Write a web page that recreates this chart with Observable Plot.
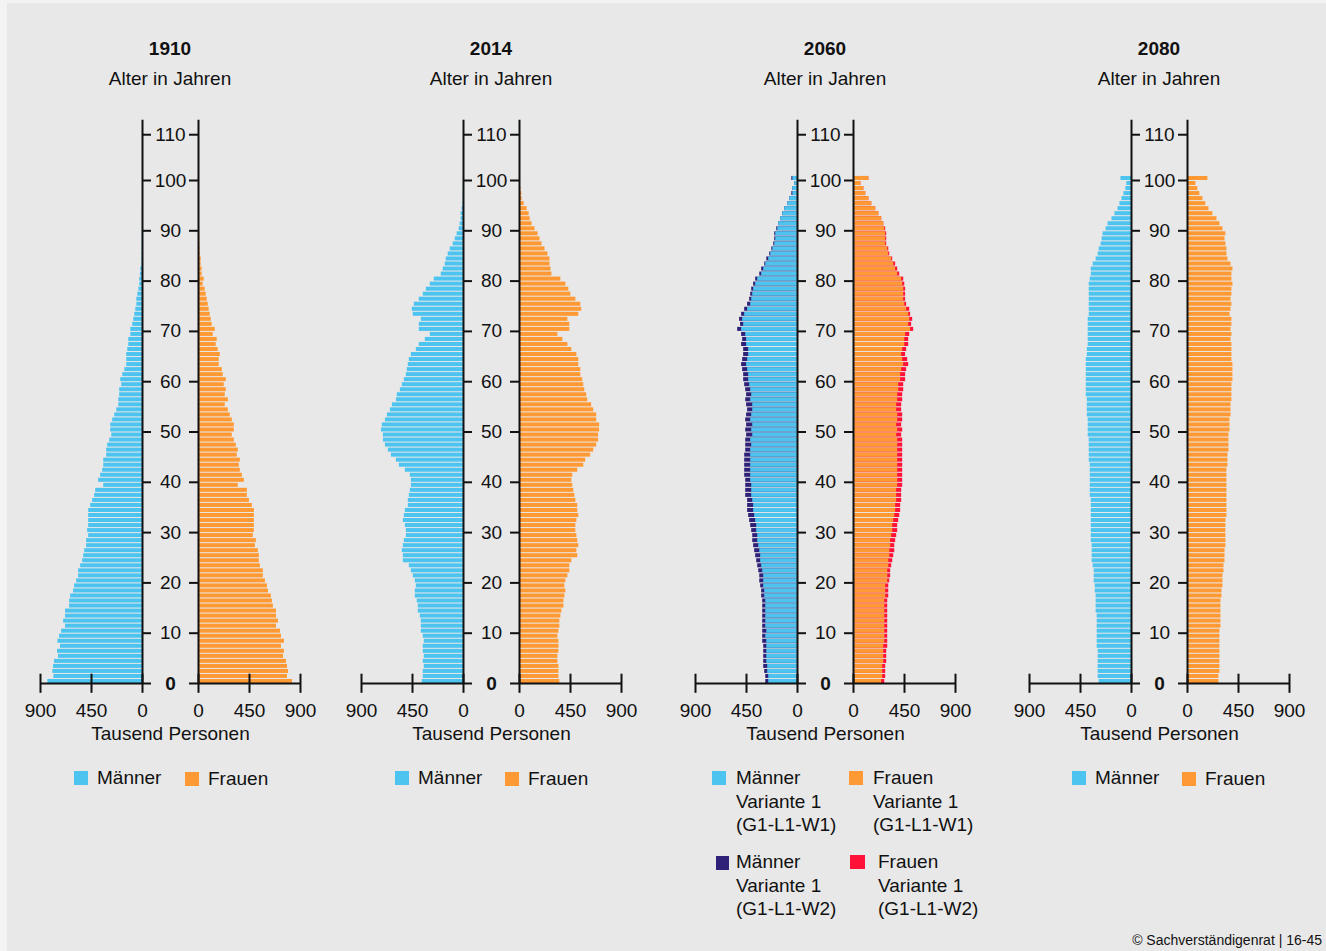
<!DOCTYPE html>
<html><head><meta charset="utf-8">
<script src="https://cdn.jsdelivr.net/npm/d3@7"></script>
<script src="https://cdn.jsdelivr.net/npm/@observablehq/plot@0.6"></script>
<style>
body{margin:0;background:#f3f3f3;font-family:"Liberation Sans",Arial,sans-serif;color:#111;}
#root{position:relative;width:1326px;height:951px;overflow:hidden;}
#bg{position:absolute;left:7px;top:3px;right:0;bottom:0;background:#e8e8e8;}
.t{position:absolute;white-space:nowrap;font-size:19px;line-height:24px;height:24px;}
.c{transform:translateX(-50%);}
.sq{position:absolute;width:14px;height:14px;}
.panel{position:absolute;top:100px;width:340px;height:643px;}
.panel svg{max-width:none !important;}
</style></head>
<body><div id="root"><div id="bg"></div></div>
<script>
const ages = d3.range(0, 101);
const years = ["1910", "2014", "2060", "2080"];
const ageTicks = d3.range(0, 111, 10);
const xTicks = [0, 450, 900];

const men1910 = [835,782,791,785,776,741,750,723,746,732,714,679,696,679,679,643,643,634,608,599,581,564,564,546,528,519,510,493,493,475,484,475,475,475,475,457,440,422,413,342,387,369,351,342,342,316,316,307,289,271,280,280,263,245,227,209,209,201,201,183,192,174,156,139,139,139,130,121,121,103,103,86,77,68,59,50,50,41,32,24,24,18,15,6,5,4,4,3,3,2,2,1,1,1,1,0,0,0,0,0,0];
const women1910 = [829,785,794,785,776,750,758,732,758,732,723,688,705,688,688,661,652,643,617,608,590,572,572,546,537,537,528,502,510,484,493,493,493,493,493,475,449,431,431,351,404,387,369,360,369,342,351,333,316,298,316,316,298,280,263,236,263,236,245,227,245,218,210,183,183,192,174,156,165,130,148,121,112,103,94,86,77,68,59,41,50,32,32,24,24,15,15,12,12,10,10,8,6,5,4,3,2,2,1,1,1];
const men2014 = [364,355,355,346,355,346,355,355,346,355,372,372,372,381,399,399,408,425,425,416,425,443,460,478,531,531,540,531,522,504,504,513,531,522,513,487,487,478,469,460,460,469,513,566,592,636,663,689,707,707,724,716,689,671,645,627,592,584,557,540,522,504,496,487,478,460,416,390,337,293,390,390,372,443,452,434,390,355,328,293,258,196,179,161,152,135,117,91,73,56,38,29,21,21,12,6,4,3,2,1,1];
const women2014 = [356,348,348,348,339,339,348,348,348,339,348,356,356,365,374,392,392,400,409,400,409,427,444,444,462,514,506,523,514,506,497,497,506,523,514,514,497,488,479,470,462,470,514,567,584,628,655,681,698,698,707,707,681,681,655,637,602,593,576,567,558,541,541,523,523,506,462,427,383,339,444,444,427,523,549,541,497,453,435,409,365,286,278,269,269,251,225,199,181,164,137,111,94,85,67,41,23,20,12,9,6];
const men2060W1 = [254,254,263,263,271,271,271,271,271,280,271,280,280,280,280,280,280,289,289,298,298,298,307,316,325,325,333,342,351,351,360,360,369,378,387,387,395,404,404,404,413,413,413,413,413,413,413,404,413,395,404,395,413,404,395,395,413,404,413,422,431,431,440,449,440,431,431,449,449,457,493,475,484,466,440,413,404,395,387,369,351,316,298,280,254,236,218,201,192,192,174,165,148,130,112,86,68,41,41,24,41];
const men2060W2 = [280,280,289,298,298,298,298,298,307,307,307,307,307,307,307,307,307,316,316,325,333,333,342,351,360,369,378,387,395,395,404,413,422,431,440,440,440,457,457,457,457,466,466,466,466,466,457,457,457,449,457,449,457,449,440,449,457,449,457,466,475,475,484,493,484,475,475,493,484,493,528,502,511,493,466,440,422,413,404,387,369,333,316,289,271,245,227,210,201,201,183,165,148,130,112,86,68,50,41,24,50];
const women2060W1 = [249,258,258,258,267,267,267,267,276,276,276,276,276,276,276,276,276,284,284,284,302,302,302,311,311,320,320,328,328,337,346,346,355,364,372,372,381,381,381,390,390,390,390,390,390,390,390,390,390,381,390,381,390,390,381,381,390,390,399,399,416,416,425,443,434,425,434,452,452,460,504,487,496,487,469,452,443,443,443,434,425,390,372,355,337,311,302,284,284,284,276,267,249,223,196,161,135,108,91,65,135];
const women2060W2 = [276,284,284,284,293,293,293,302,302,302,302,302,302,302,302,302,302,311,311,311,320,328,328,337,346,355,364,364,372,381,390,390,399,408,416,416,425,425,425,434,434,434,434,434,434,434,434,434,434,425,434,425,434,434,425,425,434,434,443,443,460,460,469,487,478,460,469,487,487,496,531,513,522,504,496,469,460,460,460,452,443,408,390,372,346,320,311,293,293,293,284,267,249,223,196,161,135,108,91,65,135];
const men2080 = [285,294,294,294,294,294,294,303,303,303,303,303,303,303,312,312,312,312,320,320,329,329,329,338,347,347,347,347,355,355,355,355,355,355,355,355,355,364,364,364,364,364,364,364,373,373,373,373,373,382,382,382,382,390,390,390,390,399,399,399,399,399,399,399,399,390,390,382,382,382,382,382,382,373,373,373,373,373,373,373,364,355,355,338,312,294,285,268,259,251,224,207,172,146,119,102,84,67,50,41,93];
const women2080 = [277,277,286,286,286,286,286,286,286,286,286,295,295,295,295,295,295,304,304,313,313,313,322,322,331,331,331,339,339,339,339,339,339,348,348,348,348,348,348,348,348,348,348,357,357,357,366,366,366,366,375,375,375,384,384,384,392,392,392,392,401,401,401,401,392,392,392,392,384,392,384,392,392,375,384,392,384,392,392,401,392,392,401,384,357,348,348,339,331,339,313,286,260,224,189,162,136,109,91,74,180];

const BLUE = "#4dc3f0", ORANGE = "#ff9933", NAVY = "#2e2177", RED = "#ff1138", INK = "#111";
const FONT = '"Liberation Sans", Arial, sans-serif';
const root = document.getElementById("root");

const panels = [
  {m0: 142, men: men1910, women: women1910},
  {m0: 463, men: men2014, women: women2014},
  {m0: 797, men: men2060W1, women: women2060W1, men2: men2060W2, women2: women2060W2},
  {m0: 1131, men: men2080, women: women2080}
];

const PXK = 102 / 900;           // px per thousand
const G = 28 / PXK;              // half-gap in data units
const TK = 9 / PXK;              // age tick length in data units
// the reference draws its top tick (110) a little closer to 100 than the others
const tickPos = t => (t === 110 ? 109.1 : t);

function addText(txt, x, yc, opts = {}) {
  const d = document.createElement("div");
  d.className = "t" + (opts.center ? " c" : "");
  d.textContent = txt;
  d.style.left = x + "px";
  d.style.top = (yc - 12) + "px";
  if (opts.bold) d.style.fontWeight = "bold";
  if (opts.size) d.style.fontSize = opts.size + "px";
  root.appendChild(d);
}
function addSq(x, y, color, w = 14, h = 14) {
  const d = document.createElement("div");
  d.className = "sq";
  d.style.left = x + "px"; d.style.top = y + "px";
  d.style.width = w + "px"; d.style.height = h + "px";
  d.style.background = color;
  root.appendChild(d);
}

panels.forEach((p, k) => {
  const rows = ages.map((a, i) => ({age: a, m: p.men[i], w: p.women[i],
    m2: p.men2 ? p.men2[i] : 0, w2: p.women2 ? p.women2[i] : 0}));
  const xt = xTicks.flatMap(t => [{x: -G - t, t}, {x: G + t, t}]);
  const marks = [
    p.men2 ? Plot.rectX(rows, {x1: () => -G, x2: d => -G - d.m2, y1: "age", y2: d => d.age + 0.8, fill: NAVY}) : null,
    p.women2 ? Plot.rectX(rows, {x1: () => G, x2: d => G + d.w2, y1: "age", y2: d => d.age + 0.8, fill: RED}) : null,
    Plot.rectX(rows, {x1: () => -G, x2: d => -G - d.m, y1: "age", y2: d => d.age + 0.8, fill: BLUE}),
    Plot.rectX(rows, {x1: () => G, x2: d => G + d.w, y1: "age", y2: d => d.age + 0.8, fill: ORANGE}),
    Plot.ruleX([-G, G], {x: d => d, y1: () => 0, y2: () => 112, stroke: INK, strokeWidth: 2}),
    Plot.ruleY(ageTicks, {y: tickPos, x1: () => -G, x2: () => -G + TK, stroke: INK, strokeWidth: 2}),
    Plot.ruleY(ageTicks, {y: tickPos, x1: () => G - TK, x2: () => G, stroke: INK, strokeWidth: 2}),
    Plot.ruleY([{a: -G - 900, b: -G}, {a: G, b: G + 900}], {y: () => 0, x1: "a", x2: "b", stroke: INK, strokeWidth: 2}),
    Plot.ruleX(xt, {x: "x", y1: () => -1.95, y2: () => 1.85, stroke: INK, strokeWidth: 2}),
    Plot.text(ageTicks.filter(t => t > 0), {x: () => 0, y: tickPos, text: d => String(d), fontSize: 19, fill: INK}),
    Plot.text([0], {x: () => 0, y: d => d, text: d => String(d), fontSize: 19, fontWeight: "bold", fill: INK}),
    Plot.text(xt, {x: "x", y: () => 0, dy: 27, text: d => String(d.t), fontSize: 19, fill: INK}),
    Plot.text(["Tausend Personen"], {x: () => 0, y: () => 0, dy: 50, text: d => d, fontSize: 19, fill: INK})
  ].filter(Boolean);
  const chart = Plot.plot({
    width: 340, height: 643,
    marginLeft: 40, marginRight: 40, marginTop: 29.7, marginBottom: 60,
    x: {domain: [-(900 + G), 900 + G], axis: null},
    y: {domain: [0, 110], axis: null},
    style: {background: "transparent", fontFamily: FONT, overflow: "visible", maxWidth: "none"},
    marks
  });
  const wrap = document.createElement("div");
  wrap.className = "panel";
  wrap.style.left = (p.m0 - 102 - 40) + "px";
  wrap.appendChild(chart);
  root.appendChild(wrap);
  const cx = p.m0 + 28;
  addText(years[k], cx, 49, {center: true, bold: true});
  addText("Alter in Jahren", cx, 79, {center: true});
});

// legends
[[74, 185], [395, 505], null, [1072, 1182]].forEach((l, k) => {
  if (!l) return;
  addSq(l[0], 771, BLUE); addText("Männer", l[0] + 23, 778);
  addSq(l[1], 772, ORANGE); addText("Frauen", l[1] + 23, 779);
});
addSq(712, 771, BLUE);
["Männer", "Variante 1", "(G1-L1-W1)"].forEach((s, i) => addText(s, 736, 778 + i * 23.5));
addSq(849, 771, ORANGE);
["Frauen", "Variante 1", "(G1-L1-W1)"].forEach((s, i) => addText(s, 873, 778 + i * 23.5));
addSq(716, 856, NAVY, 13, 14);
["Männer", "Variante 1", "(G1-L1-W2)"].forEach((s, i) => addText(s, 736, 862 + i * 23.5));
addSq(850, 855, RED, 15, 14);
["Frauen", "Variante 1", "(G1-L1-W2)"].forEach((s, i) => addText(s, 878, 862 + i * 23.5));

const cp = document.createElement("div");
cp.className = "t";
cp.textContent = "© Sachverständigenrat | 16-45";
cp.style.fontSize = "14px"; cp.style.right = "4px"; cp.style.top = "928px";
root.appendChild(cp);
</script>
</body></html>
